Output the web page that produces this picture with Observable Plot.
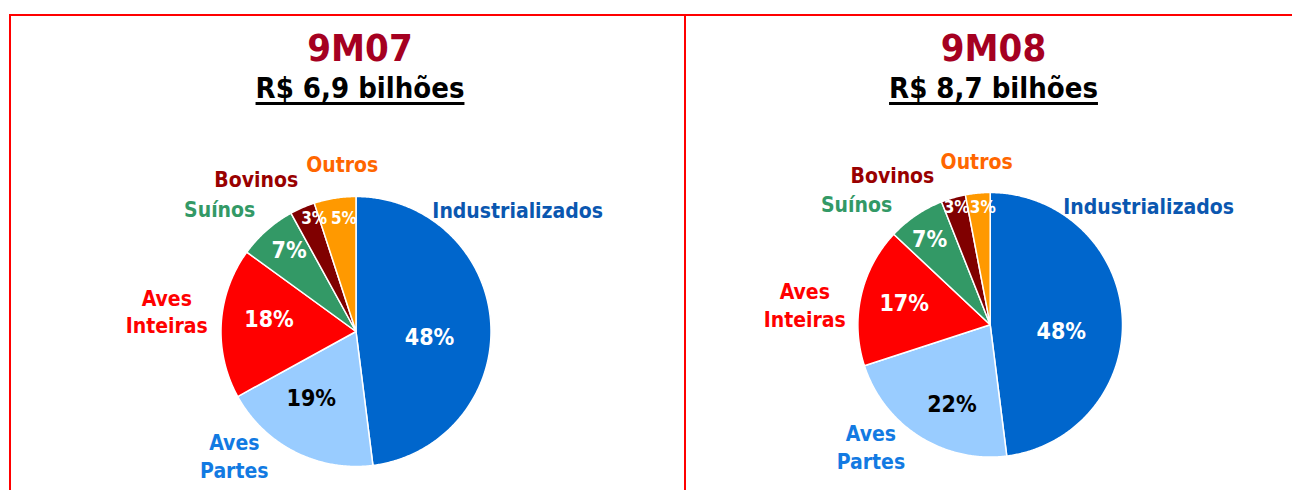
<!DOCTYPE html>
<html>
<head>
<meta charset="utf-8">
<script src="https://cdn.jsdelivr.net/npm/d3@7"></script>
<script src="https://cdn.jsdelivr.net/npm/@observablehq/plot@0.6"></script>
<style>
  html, body { margin: 0; padding: 0; background: #fff; }
  #root { position: relative; width: 1292px; height: 490px; overflow: hidden; font-family: "DejaVu Sans Condensed", "DejaVu Sans", sans-serif; font-stretch: condensed; }
  .rule { position: absolute; background: #FF0000; }
  .head { position: absolute; width: 400px; text-align: center; font-weight: bold; line-height: 1; white-space: nowrap; }
  .period { font-size: 38px; color: #A50021; }
  .total { font-size: 29px; color: #000; text-decoration: underline; text-decoration-thickness: 3px; text-underline-offset: 4px; }
  #chart { position: absolute; left: 0; top: 0; }
  #chart svg text { font-stretch: condensed; }
</style>
</head>
<body>
<div id="root"></div>
<script>
// ---------------- data ----------------
const categories = ["Industrializados", "Aves Partes", "Aves Inteiras", "Suínos", "Bovinos", "Outros"];
const categoryLabels = ["Industrializados", "Aves\nPartes", "Aves\nInteiras", "Suínos", "Bovinos", "Outros"];
const periods = ["9M07", "9M08"];
const totals = ["R$ 6,9 bilhões", "R$ 8,7 bilhões"];
const share9M07 = [48, 19, 18, 7, 3, 5];
const share9M08 = [48, 22, 17, 7, 3, 3];

// ---------------- styles / layout ----------------
const W = 1292, H = 490;
const sliceColors = ["#0066CC", "#99CCFF", "#FF0000", "#339966", "#800000", "#FF9900"];
const labelColors = ["#0A57B0", "#127AE2", "#FF0000", "#339966", "#990000", "#FF6600"];
const pctColors   = ["#FFFFFF", "#000000", "#FFFFFF", "#FFFFFF", "#FFFFFF", "#FFFFFF"];
// outer label placement (polar: degrees clockwise from 12 o'clock, radius factor)
const outerLayout = [[53, 1.50], [224.5, 1.286], [276.3, 1.41], [312.2, 1.363], [327, 1.357], [355.3, 1.249]];
const panels = [
  { values: share9M07, cx: 355.5, cy: 331, r: 135, headX: 360,
    inner: [[8.6, 0.547], [6.5, 0.60], [4.2, 0.65], [2, 0.78], [3.0, 0.89], [2.9, 0.84]] },
  { values: share9M08, cx: 989.7, cy: 324.3, r: 132.3, headX: 993.5,
    inner: [[9.4, 0.54], [-6.8, 0.67], [1.4, 0.67], [-1.2, 0.79], [0.2, 0.92], [1.8, 0.89]] }
];

const root = document.getElementById("root");
function addRule(l, t, w, h) {
  const d = document.createElement("div");
  d.className = "rule";
  Object.assign(d.style, { left: l + "px", top: t + "px", width: w + "px", height: h + "px" });
  root.appendChild(d);
}
addRule(9, 14, W - 9, 2);
addRule(9, 14, 2, H - 14);
addRule(684, 14, 2, H - 14);

panels.forEach((p, k) => {
  const a = document.createElement("div");
  a.className = "head period";
  a.textContent = periods[k];
  Object.assign(a.style, { left: (p.headX - 200) + "px", top: "29px" });
  root.appendChild(a);
  const b = document.createElement("div");
  b.className = "head total";
  Object.assign(b.style, { left: (p.headX - 200) + "px", top: "74px" });
  const s = document.createElement("span");
  s.textContent = totals[k];
  b.appendChild(s);
  root.appendChild(b);
});

// ---------------- geometry from data ----------------
const rad = d => d * Math.PI / 180;
const polar = (p, deg, rr) => ({ x: p.cx + rr * Math.sin(rad(deg)), y: p.cy - rr * Math.cos(rad(deg)) });

const slicePts = [];
const textPts = [];
panels.forEach((p, k) => {
  let cum = 0;
  p.values.forEach((v, i) => {
    const a0 = cum / 100 * 360, a1 = (cum + v) / 100 * 360;
    cum += v;
    const key = periods[k] + "|" + categories[i];
    slicePts.push({ key, cat: categories[i], ...polar(p, 0, 0) });
    const n = Math.max(2, Math.ceil((a1 - a0) / 0.5));
    for (let j = 0; j <= n; j++) slicePts.push({ key, cat: categories[i], ...polar(p, a0 + (a1 - a0) * j / n, p.r) });
    slicePts.push({ key, cat: categories[i], ...polar(p, 0, 0) });
    const mid = (a0 + a1) / 2;
    const [dA, kr] = p.inner[i];
    textPts.push({ kind: "pct", i, v, text: v + "%", ...polar(p, mid + dA, kr * p.r) });
    const [oa, ok] = outerLayout[i];
    textPts.push({ kind: "cat", i, v, text: categoryLabels[i], ...polar(p, oa, ok * p.r) });
  });
});

const marks = [
  Plot.line(slicePts, { x: "x", y: "y", z: "key", fill: "cat", stroke: "white", strokeWidth: 1.5, curve: "linear" })
];
categories.forEach((c, i) => {
  marks.push(Plot.text(textPts.filter(d => d.kind === "cat" && d.i === i), {
    x: "x", y: "y", text: "text", fill: labelColors[i], fontSize: 21, fontWeight: "bold", lineHeight: 1.3
  }));
  marks.push(Plot.text(textPts.filter(d => d.kind === "pct" && d.i === i && d.v > 5), {
    x: "x", y: "y", text: "text", fill: pctColors[i], fontSize: 23, fontWeight: "bold"
  }));
  marks.push(Plot.text(textPts.filter(d => d.kind === "pct" && d.i === i && d.v <= 5), {
    x: "x", y: "y", text: "text", fill: pctColors[i], fontSize: 17, fontWeight: "bold"
  }));
});

const chart = Plot.plot({
  width: W, height: H,
  margin: 0,
  x: { domain: [0, W], range: [0, W], axis: null },
  y: { domain: [0, H], range: [0, H], axis: null },
  color: { domain: categories, range: sliceColors, type: "ordinal" },
  style: { fontFamily: '"DejaVu Sans Condensed", "DejaVu Sans", sans-serif', background: "transparent" },
  marks
});
const holder = document.createElement("div");
holder.id = "chart";
holder.appendChild(chart);
root.insertBefore(holder, root.firstChild);
</script>
</body>
</html>
